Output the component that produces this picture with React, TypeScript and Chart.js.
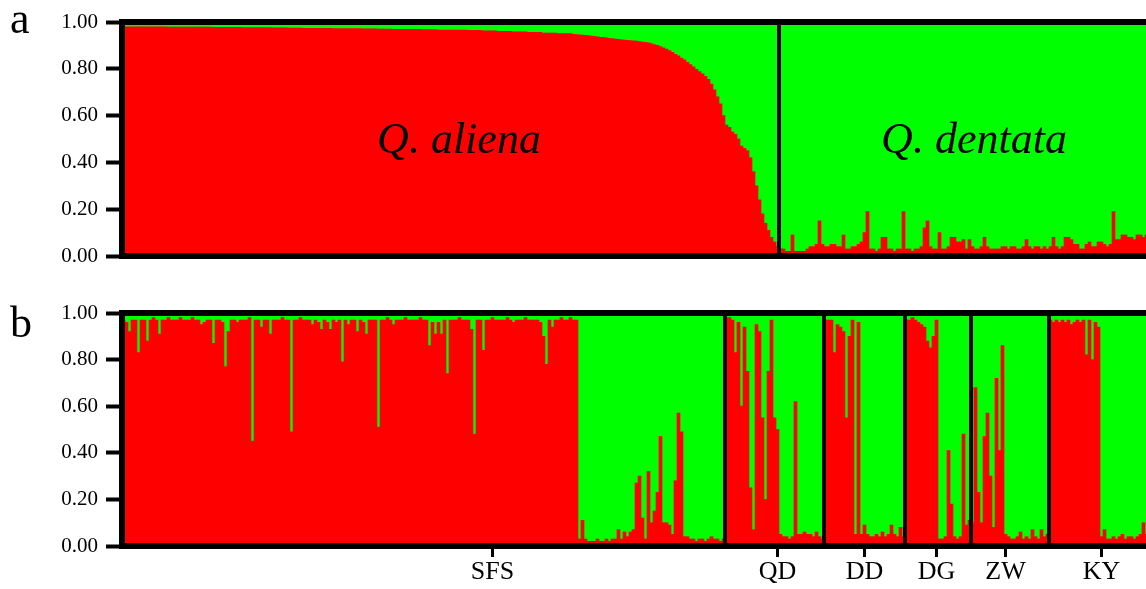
import React, { useEffect, useRef } from "react";
import { Chart, registerables } from "chart.js";

Chart.register(...registerables);

const RED = "#ff0000";
const GREEN = "#00ff00";
const SERIF = '"Liberation Serif", "Times New Roman", serif';

// ---- Panel a: membership in the Q. aliena cluster (red, %), individuals sorted ----
const panelAAliena: number[] = [
  97.9, 97.9, 97.9, 97.9, 97.9, 97.9, 97.9, 97.9, 97.9, 97.9,
  97.9, 97.9, 97.9, 97.9, 97.9, 97.8, 97.8, 97.8, 97.8, 97.8,
  97.8, 97.8, 97.8, 97.8, 97.8, 97.8, 97.8, 97.8, 97.8, 97.8,
  97.7, 97.7, 97.7, 97.7, 97.7, 97.7, 97.7, 97.7, 97.7, 97.7,
  97.6, 97.6, 97.6, 97.6, 97.6, 97.6, 97.6, 97.6, 97.6, 97.6,
  97.5, 97.5, 97.5, 97.5, 97.5, 97.4, 97.4, 97.4, 97.4, 97.4,
  97.3, 97.3, 97.3, 97.3, 97.3, 97.3, 97.3, 97.3, 97.3, 97.3,
  97.2, 97.2, 97.2, 97.2, 97.2, 97.2, 97.2, 97.2, 97.2, 97.2,
  97.1, 97.1, 97.1, 97.1, 97.1, 97.0, 97.0, 97.0, 97.0, 97.0,
  96.9, 96.9, 96.9, 96.9, 96.9, 96.9, 96.9, 96.9, 96.9, 96.9,
  96.8, 96.8, 96.8, 96.8, 96.8, 96.6, 96.6, 96.6, 96.6, 96.6,
  96.5, 96.5, 96.5, 96.5, 96.5, 96.4, 96.4, 96.4, 96.4, 96.4,
  96.2, 96.2, 96.2, 96.2, 96.2, 96.0, 96.0, 96.0, 96.0, 96.0,
  95.8, 95.8, 95.8, 95.8, 95.8, 95.6, 95.6, 95.6, 95.6, 95.6,
  95.3, 95.3, 95.3, 95.3, 95.3, 95.0, 95.0, 95.0, 95.0, 95.0,
  94.7, 94.6, 94.5, 94.4, 94.3, 94.2,
  94.0, 93.9, 93.7, 93.5, 93.4, 93.2, 93.0, 92.9, 92.7, 92.6,
  92.4, 92.3, 92.2, 92.1, 92.0, 91.8, 91.6, 91.4, 91.3, 91.1,
  90.8, 90.4, 90.0, 89.5, 89.0, 88.4, 87.8, 87.0, 86.2, 85.5,
  84.6, 83.8, 82.8, 81.8, 80.8, 79.8, 78.8, 77.8, 76.8, 75.5,
  73.5, 71, 68, 65, 60, 56, 55, 53, 52, 50,
  47, 46, 45, 42, 36, 30, 24, 18, 14, 11,
  8, 6, 4,
];

const panelADentata: number[] = [
  3, 3, 2, 2, 9, 2, 2, 2, 2, 3,
  4, 4, 5, 15, 5, 4, 4, 5, 5, 4,
  4, 9, 3, 3, 4, 4, 5, 6, 10, 19,
  3, 3, 2, 3, 8, 8, 3, 3, 2, 3,
  3, 19, 3, 3, 2, 3, 3, 4, 12, 15,
  4, 3, 3, 10, 3, 3, 4, 8, 8, 6,
  6, 7, 3, 7, 4, 3, 3, 4, 8, 4,
  3, 3, 3, 3, 4, 4, 3, 4, 4, 3,
  3, 4, 7, 4, 3, 4, 4, 3, 4, 3,
  4, 8, 4, 3, 4, 8, 8, 7, 5, 5,
  3, 3, 5, 6, 4, 4, 6, 6, 5, 4,
  5, 19, 7, 7, 9, 9, 8, 8, 7, 9,
  9, 8, 9, 9,
];

// ---- Panel b: red membership (%) by population ----
const sfsB: number[] = [
  97, 96, 92, 97, 97, 83, 97, 97, 88, 97,
  98, 97, 91, 97, 97, 98, 97, 97, 97, 98,
  97, 97, 97, 98, 97, 97, 95, 96, 97, 97,
  87, 97, 97, 96, 77, 92, 97, 97, 96, 97,
  97, 97, 98, 45, 97, 97, 94, 97, 97, 91,
  97, 97, 97, 98, 97, 97, 49, 97, 97, 98,
  97, 97, 97, 95, 97, 96, 93, 97, 96, 93,
  97, 96, 97, 79, 97, 95, 97, 97, 92, 97,
  96, 91, 97, 97, 97, 51, 97, 97, 98, 97,
  95, 97, 97, 97, 98, 97, 97, 97, 97, 98,
  97, 97, 86, 96, 91, 96, 91, 97, 74, 97,
  97, 97, 98, 97, 97, 97, 93, 48, 97, 97,
  84, 97, 97, 98, 97, 97, 97, 97, 98, 97,
  96, 97, 97, 97, 98, 97, 97, 97, 97, 96,
  90, 78, 97, 94, 97, 97, 98, 97, 97, 98,
  97, 97, 3, 11, 3, 2, 2, 2, 3, 2,
  2, 3, 2, 3, 3, 7, 3, 6, 4, 6,
  7, 27, 30, 12, 3, 32, 10, 15, 23, 47,
  10, 10, 9, 5, 28, 57, 49, 4, 4, 3,
  3, 2, 3, 3, 2, 3, 4, 3, 3, 2,
  3,
];
const qdB: number[] = [
  98, 98, 97, 83, 96, 60, 94, 75, 25, 7,
  95, 92, 55, 20, 75, 97, 55, 50, 5, 4,
  4, 3, 4, 62, 5, 5, 6, 5, 5, 4,
  6, 4, 3,
];
const ddB: number[] = [
  97, 97, 97, 83, 95, 94, 92, 55, 90, 97,
  5, 96, 5, 9, 5, 4, 4, 5, 4, 6,
  4, 5, 9, 5, 4, 8, 4,
];
const dgB: number[] = [
  97, 97, 98, 97, 96, 95, 94, 88, 85, 90,
  97, 3, 3, 4, 41, 18, 4, 3, 4, 48,
  9, 11,
];
const zwB: number[] = [
  10, 68, 23, 10, 47, 57, 30, 8, 72, 41,
  86, 5, 4, 3, 3, 4, 6, 3, 4, 3,
  7, 4, 3, 7, 4, 5,
];
const kyB: number[] = [
  97, 96, 97, 96, 97, 96, 97, 95, 96, 97,
  96, 97, 82, 97, 80, 96, 94, 4, 7, 3,
  3, 4, 3, 4, 5, 3, 4, 4, 3, 4,
  5, 10, 5, 5,
];

const popNames: string[] = ["SFS", "QD", "DD", "DG", "ZW", "KY"];
const popTickOffsets: number[] = [123, 17, 13, 10, 11, 17];
const yTickValues: number[] = [0, 0.2, 0.4, 0.6, 0.8, 1.0];

type TextItem = { text: string; x: number; y: number; font: string };
type PanelCfg = {
  red: number[];
  boundaries: number[];
  tickIdx: number[];
  tickLabels: string[];
  topH: number;
  bottomH: number;
  texts: TextItem[];
};

function buildChart(canvas: HTMLCanvasElement, cfg: PanelCfg) {
  const labels = cfg.red.map((_, i) => String(i + 1));
  const redData = cfg.red.map((v) => v / 100);
  const greenData = cfg.red.map((v) => 1 - v / 100);
  const hasTicks = cfg.tickIdx.length > 0;
  const tickMap = new Map<number, string>();
  cfg.tickIdx.forEach((t, i) => tickMap.set(t, cfg.tickLabels[i]));

  const sepPlugin = {
    id: "separators",
    afterDatasetsDraw(chart: any) {
      const xs = chart.scales.x;
      const { top, bottom } = chart.chartArea;
      const ctx = chart.ctx;
      ctx.save();
      ctx.strokeStyle = "#000";
      ctx.lineWidth = 4;
      cfg.boundaries.forEach((b) => {
        const x = (xs.getPixelForValue(b - 1) + xs.getPixelForValue(b)) / 2;
        ctx.beginPath();
        ctx.moveTo(x, top);
        ctx.lineTo(x, bottom);
        ctx.stroke();
      });
      ctx.restore();
    },
  };
  const textPlugin = {
    id: "panelText",
    afterDraw(chart: any) {
      const ctx = chart.ctx;
      ctx.save();
      ctx.fillStyle = "#000";
      ctx.textBaseline = "alphabetic";
      cfg.texts.forEach((t) => {
        ctx.font = t.font;
        ctx.textAlign = t.text.length > 1 ? "center" : "left";
        ctx.fillText(t.text, t.x, t.y);
      });
      ctx.restore();
    },
  };

  const borderOpt = { display: true, width: 6, color: "#000", z: 1 };

  return new Chart(canvas, {
    type: "bar",
    data: {
      labels,
      datasets: [
        {
          label: "K1",
          data: redData,
          backgroundColor: RED,
          borderWidth: 0,
          barPercentage: 1,
          categoryPercentage: 1,
          stack: "s",
        },
        {
          label: "K2",
          data: greenData,
          backgroundColor: GREEN,
          borderWidth: 0,
          barPercentage: 1,
          categoryPercentage: 1,
          stack: "s",
        },
      ],
    },
    options: {
      responsive: false,
      animation: false,
      devicePixelRatio: 1,
      layout: { padding: { left: 0, right: 9, top: 0, bottom: 0 } },
      plugins: { legend: { display: false }, tooltip: { enabled: false } },
      scales: {
        x: {
          type: "category",
          position: "bottom",
          stacked: true,
          offset: true,
          grid: {
            display: hasTicks,
            drawOnChartArea: false,
            drawTicks: true,
            tickLength: 11,
            tickWidth: 3,
            tickColor: "#000",
            offset: false,
          },
          border: borderOpt,
          ticks: {
            display: hasTicks,
            autoSkip: false,
            maxRotation: 0,
            minRotation: 0,
            padding: 2,
            color: "#000",
            font: { family: SERIF, size: 26, lineHeight: 1 },
            callback: (v: any) => tickMap.get(Number(v)) ?? "",
          },
          afterBuildTicks: (scale: any) => {
            if (hasTicks) scale.ticks = cfg.tickIdx.map((v) => ({ value: v }));
          },
          afterFit: (scale: any) => {
            scale.height = cfg.bottomH;
          },
        },
        xTop: {
          type: "category",
          position: "top",
          offset: true,
          grid: { display: false },
          border: borderOpt,
          ticks: { display: false },
          afterFit: (scale: any) => {
            scale.height = cfg.topH;
          },
        },
        y: {
          type: "linear",
          position: "left",
          stacked: true,
          min: 0,
          max: 1,
          grid: {
            display: true,
            drawOnChartArea: false,
            drawTicks: true,
            tickLength: 16,
            tickWidth: 4,
            tickColor: "#000",
          },
          border: borderOpt,
          ticks: {
            padding: 8,
            color: "#000",
            font: { family: SERIF, size: 21 },
            callback: (v: any) => Number(v).toFixed(2),
          },
          afterBuildTicks: (scale: any) => {
            scale.ticks = yTickValues.map((v) => ({ value: v }));
          },
          afterFit: (scale: any) => {
            scale.width = 122;
          },
        },
      },
    } as any,
    plugins: [sepPlugin, textPlugin],
  });
}

export default function App() {
  const refA = useRef<HTMLCanvasElement>(null);
  const refB = useRef<HTMLCanvasElement>(null);

  useEffect(() => {
    const popsB = [sfsB, qdB, ddB, dgB, zwB, kyB];
    const starts: number[] = [];
    let acc = 0;
    popsB.forEach((p) => {
      starts.push(acc);
      acc += p.length;
    });
    const redB = ([] as number[]).concat(...popsB);
    const redA = panelAAliena.concat(panelADentata);

    const a = buildChart(refA.current as HTMLCanvasElement, {
      red: redA,
      boundaries: [panelAAliena.length],
      tickIdx: [],
      tickLabels: [],
      topH: 22,
      bottomH: 34,
      texts: [
        { text: "a", x: 10, y: 33, font: `44px ${SERIF}` },
        { text: "Q. aliena", x: 459, y: 153, font: `italic 44px ${SERIF}` },
        { text: "Q. dentata", x: 974, y: 153, font: `italic 44px ${SERIF}` },
      ],
    });
    const b = buildChart(refB.current as HTMLCanvasElement, {
      red: redB,
      boundaries: starts.slice(1),
      tickIdx: starts.map((s, i) => s + popTickOffsets[i]),
      tickLabels: popNames,
      topH: 23,
      bottomH: 43,
      texts: [{ text: "b", x: 10, y: 47, font: `44px ${SERIF}` }],
    });
    return () => {
      a.destroy();
      b.destroy();
    };
  }, []);

  return (
    <div
      style={{
        position: "fixed",
        left: 0,
        top: 0,
        width: 1146,
        height: 589,
        overflow: "hidden",
        background: "#fff",
      }}
    >
      <canvas
        ref={refA}
        width={1160}
        height={290}
        style={{ position: "absolute", left: 0, top: 0, width: 1160, height: 290 }}
      />
      <canvas
        ref={refB}
        width={1160}
        height={299}
        style={{ position: "absolute", left: 0, top: 290, width: 1160, height: 299 }}
      />
    </div>
  );
}
